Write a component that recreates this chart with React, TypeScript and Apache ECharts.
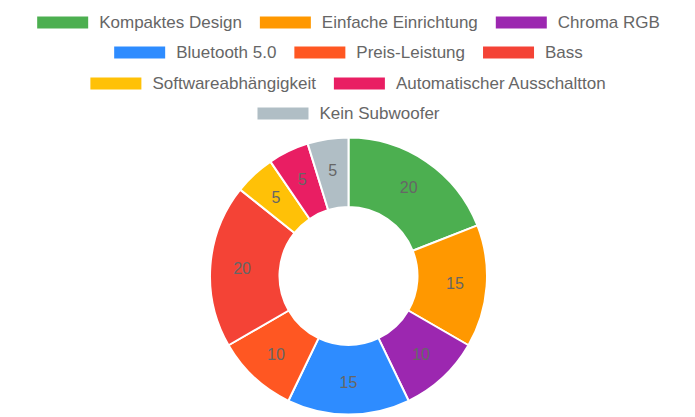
import React, { useEffect, useRef } from "react";
import * as echarts from "echarts";

const categories = [
  "Kompaktes Design",
  "Einfache Einrichtung",
  "Chroma RGB",
  "Bluetooth 5.0",
  "Preis-Leistung",
  "Bass",
  "Softwareabhängigkeit",
  "Automatischer Ausschaltton",
  "Kein Subwoofer",
];
const values = [20, 15, 10, 15, 10, 20, 5, 5, 5];
const colors = [
  "#4CAF50",
  "#FF9800",
  "#9C27B0",
  "#2E8CFF",
  "#FF5722",
  "#F44336",
  "#FFC107",
  "#E91E63",
  "#B0BEC5",
];
const legendRows = [
  categories.slice(0, 3),
  categories.slice(3, 6),
  categories.slice(6, 8),
  categories.slice(8, 9),
];

const FONT = "'Liberation Sans', Arial, Helvetica, sans-serif";

export default function App() {
  const ref = useRef<HTMLDivElement>(null);
  useEffect(() => {
    if (!ref.current) return;
    const chart = echarts.init(ref.current, undefined, { renderer: "svg" });
    const legendTops = [1, 31, 62, 92];
    chart.setOption({
      animation: false,
      color: colors,
      legend: legendRows.map((row, i) => ({
        data: row,
        top: legendTops[i],
        left: "center",
        orient: "horizontal",
        itemWidth: 53,
        itemHeight: 14,
        itemGap: 16,
        icon: "rect",
        selectedMode: false,
        textStyle: {
          fontSize: 17,
          color: "#666",
          fontFamily: FONT,
          padding: [0, 0, 0, 5],
        },
      })),
      series: [
        {
          type: "pie",
          center: [340.5, 268],
          radius: [69, 138.5],
          startAngle: 90,
          clockwise: true,
          avoidLabelOverlap: false,
          itemStyle: { borderColor: "#fff", borderWidth: 2 },
          label: {
            show: true,
            position: "inside",
            formatter: "{c}",
            color: "#666",
            fontSize: 16,
            fontFamily: FONT,
          },
          labelLine: { show: false },
          emphasis: { disabled: true },
          data: categories.map((name, i) => ({ name, value: values[i] })),
        },
      ],
    });
    return () => chart.dispose();
  }, []);
  return <div ref={ref} style={{ width: 679, height: 409 }} />;
}
